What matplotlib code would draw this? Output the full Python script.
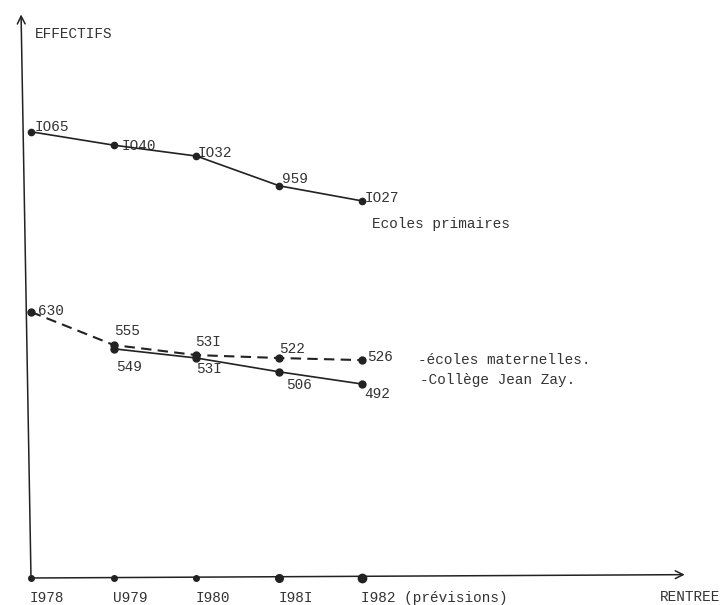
"""
Effectifs scolaires 1978-1982 (graphique tapé à la machine)
"""

import matplotlib
matplotlib.use("Agg")
import matplotlib.pyplot as plt

# Années (rentrées) et libellés de l'axe, tels que tapés
years = [1978, 1979, 1980, 1981, 1982]
year_labels = ["I978", "U979", "I980", "I98I", "I982 (prévisions)"]

# Niveaux tracés (échelle de l'axe vertical)
primaires = [1065, 1033, 1007, 936, 900]
maternelles = [635, 556, 532, 525, 520]
college_years = [1979, 1980, 1981, 1982]
college = [547, 525, 492, 463]

# Valeurs écrites à côté des points
primaires_lbl = ["IO65", "IO40", "IO32", "959", "IO27"]
maternelles_lbl = ["630", "555", "53I", "522", "526"]
college_lbl = ["549", "53I", "506", "492"]

# décalages des étiquettes (pixels)
primaires_off = [(4, 5), (8, -1), (1, 3), (3, 7), (3, 3)]
maternelles_off = [(7, 1), (0, 14), (-1, 13), (0, 9), (5, 3)]
college_off = [(2, -18), (0, -11), (7, -13), (2, -10)]

INK = "#222222"
TXT = "#333333"
FONT = "Liberation Mono"
FS = 10.4

fig = plt.figure(figsize=(7.24, 6.05), dpi=100)
ax = fig.add_axes([0, 0, 1, 1])

# 1 année = 82.75 px, 1 élève = 0.419 px, origine à (31, 578) px
ax.set_xlim(1978 - 31 / 82.75, 1978 + 693 / 82.75)
ax.set_ylim(-27 / 0.419, 578 / 0.419)
ax.set_axis_off()

# axes dessinés à la main
ax.annotate("", xy=(1977.88, 1345), xytext=(1978, 0),
            arrowprops=dict(arrowstyle="->", color=INK, lw=1.1,
                            shrinkA=0, shrinkB=0, mutation_scale=14))
ax.annotate("", xy=(1985.9, 8), xytext=(1978, 0),
            arrowprops=dict(arrowstyle="->", color=INK, lw=1.1,
                            shrinkA=0, shrinkB=0, mutation_scale=14))

# repères sur l'axe horizontal
tick_sizes = [4, 4, 4, 5.5, 6]
for yr, lbl, ms in zip(years, year_labels, tick_sizes):
    ax.plot([yr], [0], "o", color=INK, ms=ms, zorder=3)
    ax.annotate(lbl, xy=(yr, 0), xytext=(-1, -20), textcoords="offset pixels",
                ha="left", va="center", family=FONT, fontsize=FS, color=TXT)

ax.annotate("RENTREE", xy=(1985.9, 0), xytext=(-25, -19),
            textcoords="offset pixels", ha="left", va="center",
            family=FONT, fontsize=FS, color=TXT)
ax.annotate("EFFECTIFS", xy=(1977.88, 1345), xytext=(14, -20),
            textcoords="offset pixels", ha="left", va="center",
            family=FONT, fontsize=FS, color=TXT)

# séries
ax.plot(years, primaires, "-o", color=INK, lw=1.2, ms=4.5, zorder=4)
ax.plot(years, maternelles, color=INK, lw=1.5, ls=(0, (5, 3)), zorder=4)
ax.plot(years, maternelles, "o", color=INK, ms=5, zorder=4)
ax.plot(college_years, college, "-o", color=INK, lw=1.2, ms=5, zorder=4)

for xs, ys, labels, offs in [(years, primaires, primaires_lbl, primaires_off),
                             (years, maternelles, maternelles_lbl, maternelles_off),
                             (college_years, college, college_lbl, college_off)]:
    for x, y, t, off in zip(xs, ys, labels, offs):
        ax.annotate(t, xy=(x, y), xytext=off, textcoords="offset pixels",
                    ha="left", va="center", family=FONT, fontsize=FS, color=TXT)

# légendes à droite des courbes
ax.annotate("Ecoles primaires", xy=(years[-1], primaires[-1]), xytext=(10, -23),
            textcoords="offset pixels", ha="left", va="center",
            family=FONT, fontsize=FS, color=TXT)
ax.annotate("-écoles maternelles.", xy=(years[-1], maternelles[-1]), xytext=(56, 0),
            textcoords="offset pixels", ha="left", va="center",
            family=FONT, fontsize=FS, color=TXT)
ax.annotate("-Collège Jean Zay.", xy=(years[-1], college[-1]), xytext=(58, 4),
            textcoords="offset pixels", ha="left", va="center",
            family=FONT, fontsize=FS, color=TXT)

fig.savefig("out.png", dpi=100, facecolor="white")
